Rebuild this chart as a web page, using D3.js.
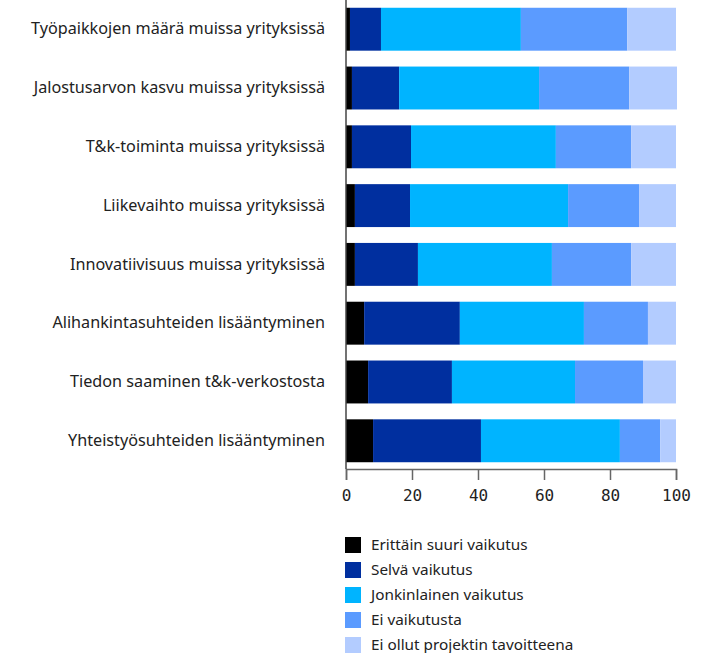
<!DOCTYPE html>
<html>
<head>
<meta charset="utf-8">
<script src="https://cdn.jsdelivr.net/npm/d3@7"></script>
<style>
  html, body { margin: 0; padding: 0; background: #fff; }
  svg { display: block; }
  .cat text { font-family: "Noto Sans", sans-serif; font-size: 16.2px; fill: #222; }
  .xax text { font-family: "DejaVu Sans Mono", monospace; font-size: 16px; fill: #222; }
  .legend text { font-family: "Noto Sans", sans-serif; font-size: 15.3px; fill: #222; }
</style>
</head>
<body>
<svg id="chart" width="704" height="653"></svg>
<script>
const categories = [
  "Työpaikkojen määrä muissa yrityksissä",
  "Jalostusarvon kasvu muissa yrityksissä",
  "T&k-toiminta muissa yrityksissä",
  "Liikevaihto muissa yrityksissä",
  "Innovatiivisuus muissa yrityksissä",
  "Alihankintasuhteiden lisääntyminen",
  "Tiedon saaminen t&k-verkostosta",
  "Yhteistyösuhteiden lisääntyminen"
];
const seriesNames = [
  "Erittäin suuri vaikutus",
  "Selvä vaikutus",
  "Jonkinlainen vaikutus",
  "Ei vaikutusta",
  "Ei ollut projektin tavoitteena"
];
const erittainSuuri = [1.2, 1.8, 1.8, 2.7, 2.7, 5.5, 6.7, 8.2];
const selva         = [9.4, 14.3, 17.9, 16.7, 19.1, 29.0, 25.4, 32.7];
const jonkinlainen  = [42.4, 42.4, 43.9, 47.9, 40.6, 37.6, 37.3, 42.1];
const eiVaikutusta  = [32.2, 27.3, 22.8, 21.5, 24.0, 19.4, 20.6, 12.2];
const eiTavoitteena = [14.8, 14.5, 13.6, 11.2, 13.6, 8.5, 10.0, 4.8];
const xTicks = [0, 20, 40, 60, 80, 100];
const colors = ["#000000", "#002f9f", "#00b4ff", "#5b9bff", "#b3ccff"];

const seriesValues = [erittainSuuri, selva, jonkinlainen, eiVaikutusta, eiTavoitteena];
const rows = categories.map((c, i) => {
  const r = { cat: c };
  seriesNames.forEach((s, j) => r[s] = seriesValues[j][i]);
  return r;
});
const stacked = d3.stack().keys(seriesNames)(rows);

const svg = d3.select("#chart");
const mLeft = 346, mRight = 676, mTop = 1, mBottom = 469;

const x = d3.scaleLinear().domain([0, 100]).range([mLeft, mRight]);
const y = d3.scaleBand().domain(categories).range([mTop, mBottom])
  .paddingInner(0.27).paddingOuter(0.115);
const color = d3.scaleOrdinal().domain(seriesNames).range(colors);

svg.append("g").selectAll("g").data(stacked).join("g")
  .attr("fill", d => color(d.key))
  .selectAll("rect").data(d => d).join("rect")
  .attr("x", d => x(d[0]))
  .attr("y", d => y(d.data.cat))
  .attr("width", d => x(d[1]) - x(d[0]))
  .attr("height", y.bandwidth());

// x axis
const xAxis = svg.append("g").attr("class", "xax")
  .attr("transform", `translate(0,${mBottom})`)
  .call(d3.axisBottom(x).tickValues(xTicks).tickSize(11).tickPadding(10));
xAxis.selectAll("path, line").attr("stroke", "#666").attr("stroke-width", 1.5);

// y axis
const yAxis = svg.append("g").attr("class", "cat")
  .attr("transform", `translate(${mLeft},0)`)
  .call(d3.axisLeft(y).tickSize(0).tickPadding(21));
yAxis.select(".domain").attr("stroke", "#444").attr("stroke-width", 1.5)
  .attr("d", `M0,0V${mBottom}`);

// legend
const lg = svg.append("g").attr("class", "legend");
const items = lg.selectAll("g").data(seriesNames).join("g")
  .attr("transform", (d, i) => `translate(345,${537 + i * 25})`);
items.append("rect").attr("width", 16).attr("height", 16).attr("fill", d => color(d));
items.append("text").attr("x", 26).attr("y", 8).attr("dy", "0.35em").text(d => d);
</script>
</body>
</html>
